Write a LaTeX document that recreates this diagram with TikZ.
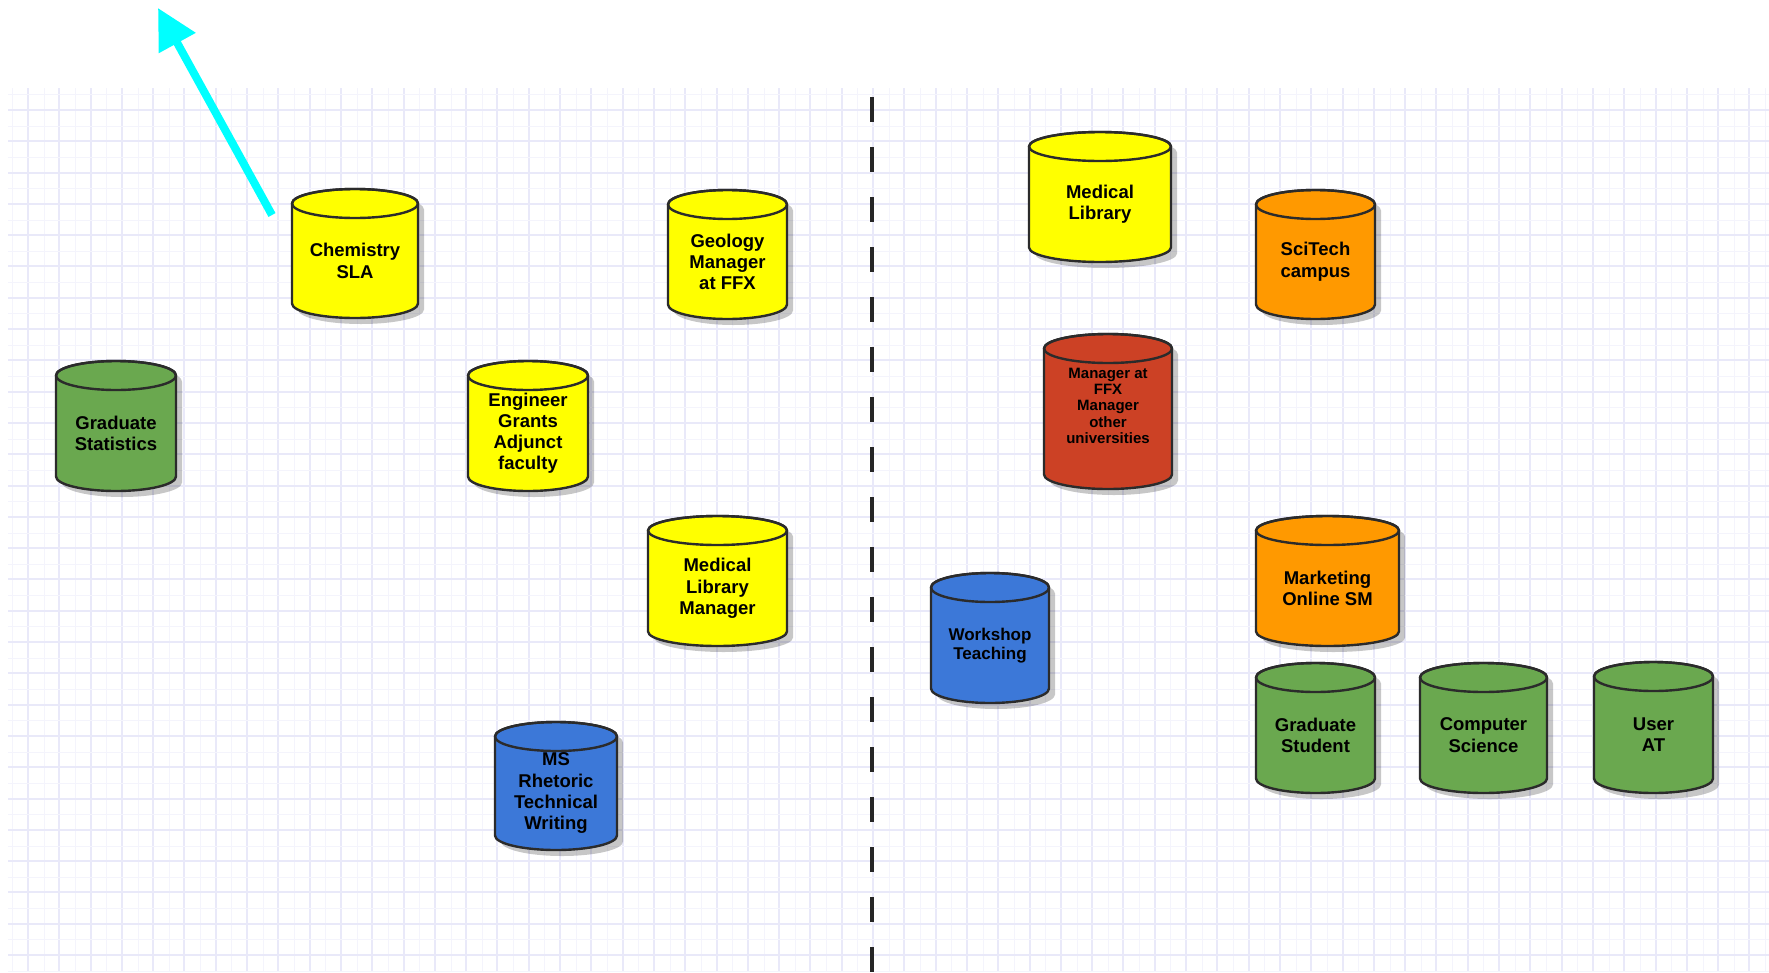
\documentclass[tikz,border=0pt]{standalone}
\usepackage{fontspec}
\setmainfont{Liberation Sans}
\usetikzlibrary{arrows.meta}
\definecolor{cylyellow}{HTML}{FFFF00}
\definecolor{cylgreen}{HTML}{6AA84F}
\definecolor{cylblue}{HTML}{3C78D8}
\definecolor{cylorange}{HTML}{FF9900}
\definecolor{cylred}{HTML}{CC4125}
\definecolor{arrowcyan}{HTML}{00FFFF}
\definecolor{gridmajor}{RGB}{233,233,249}
\definecolor{gridminor}{RGB}{244,244,252}
\definecolor{cylline}{HTML}{2B2B2B}
\tikzset{
  cylshadow/.style={fill=black,opacity=0.22},
  cylbody/.style={draw=cylline,line width=2.4pt,line join=round},
  cyltext/.style={align=center,inner sep=0pt,text=black,font=\bfseries\fontsize{18.5}{21.3}\selectfont},
  smalltext/.style={font=\bfseries\fontsize{15}{16.3}\selectfont},
  midtext/.style={font=\bfseries\fontsize{17}{19}\selectfont},
  majorline/.style={draw=gridmajor,line width=2pt},
  minorline/.style={draw=gridminor,line width=1pt},
  divider/.style={draw=black!85,line width=3.5pt,dash pattern=on 25pt off 25pt},
  cyanarrow/.style={draw=arrowcyan,line width=8pt,-{Triangle[length=40pt,width=40pt]}}
}
\newcommand\drawcyl[8]{%
  \pgfmathsetmacro\cylcx{(#2+#4)/2}%
  \pgfmathsetmacro\cylrx{(#4-#2)/2}%
  \pgfmathsetmacro\cylty{#3+14.5}%
  \pgfmathsetmacro\cylby{#5-14.5}%
  \path[cylshadow] (#2+6,\cylty+6) -- (#2+6,\cylby+6) arc[start angle=180,end angle=0,x radius=\cylrx,y radius=14.5] -- (#4+6,\cylty+6) arc[start angle=0,end angle=-180,x radius=\cylrx,y radius=14.5] -- cycle;
  \path[cylbody,fill=#6] (#2,\cylty) -- (#2,\cylby) arc[start angle=180,end angle=0,x radius=\cylrx,y radius=14.5] -- (#4,\cylty) arc[start angle=0,end angle=-180,x radius=\cylrx,y radius=14.5] -- cycle;
  \draw[cylbody] (\cylcx,\cylty) ellipse[x radius=\cylrx,y radius=14.5];
  \node[cyltext,#8] (#1) at (\cylcx,{(\cylty+#5)/2}) {#7};
}
\begin{document}
\begin{tikzpicture}[x=1pt,y=-1pt]
\useasboundingbox (0,0) rectangle (1769,972);
\fill[white] (0,0) rectangle (1769,972);
% grid
\foreach \i in {0,...,112} {
  \pgfmathtruncatemacro\odd{mod(\i,2)}
  \ifnum\odd=1
    \pgfmathsetmacro\gx{round(12.35+15.65*\i)}
    \path[majorline] (\gx,88) -- (\gx,972);
  \else
    \pgfmathsetmacro\gx{round(12.35+15.65*\i)+0.5}
    \path[minorline] (\gx,88) -- (\gx,972);
  \fi
}
\foreach \j in {0,...,56} {
  \pgfmathtruncatemacro\odd{mod(\j,2)}
  \ifnum\odd=1
    \pgfmathsetmacro\gy{round(94.35+15.65*\j)}
    \path[majorline] (8,\gy) -- (1769,\gy);
  \else
    \pgfmathsetmacro\gy{round(94.35+15.65*\j)+0.5}
    \path[minorline] (8,\gy) -- (1769,\gy);
  \fi
}
% divider
\coordinate (divtop) at (872,97);
\coordinate (divbot) at (872,972);
\path[divider] (divtop) -- (divbot);
% cylinders
\drawcyl{chem}{292}{189}{418}{318}{cylyellow}{Chemistry\\SLA}{}
\drawcyl{gradstat}{56}{361}{176}{491}{cylgreen}{Graduate\\Statistics}{}
\drawcyl{engineer}{468}{361}{588}{491}{cylyellow}{Engineer\\Grants\\Adjunct\\faculty}{}
\drawcyl{geology}{668}{190}{787}{319}{cylyellow}{Geology\\Manager\\at FFX}{}
\drawcyl{medlibmgr}{648}{516}{787}{646}{cylyellow}{Medical\\Library\\Manager}{}
\drawcyl{msrhet}{495}{722}{617}{850}{cylblue}{MS\\Rhetoric\\Technical\\Writing}{}
\drawcyl{medlib}{1029}{132}{1171}{262}{cylyellow}{Medical\\Library}{}
\drawcyl{scitech}{1256}{190}{1375}{319}{cylorange}{SciTech\\campus}{}
\drawcyl{mgrffx}{1044}{334}{1172}{489}{cylred}{Manager at\\FFX\\Manager\\other\\universities}{smalltext,yshift=13pt}
\drawcyl{marketing}{1256}{516}{1399}{646}{cylorange}{Marketing\\Online SM}{}
\drawcyl{workshop}{931}{573}{1049}{703}{cylblue}{Workshop\\Teaching}{midtext}
\drawcyl{gradstudent}{1256}{663}{1375}{793}{cylgreen}{Graduate\\Student}{}
\drawcyl{compsci}{1420}{663}{1547}{793}{cylgreen}{Computer\\Science}{}
\drawcyl{userat}{1594}{662}{1713}{793}{cylgreen}{User\\AT}{}
% arrow
\coordinate (arrtail) at (272,215);
\coordinate (arrtip) at (158,8);
\path[cyanarrow] (arrtail) -- (arrtip);
\end{tikzpicture}
\end{document}
